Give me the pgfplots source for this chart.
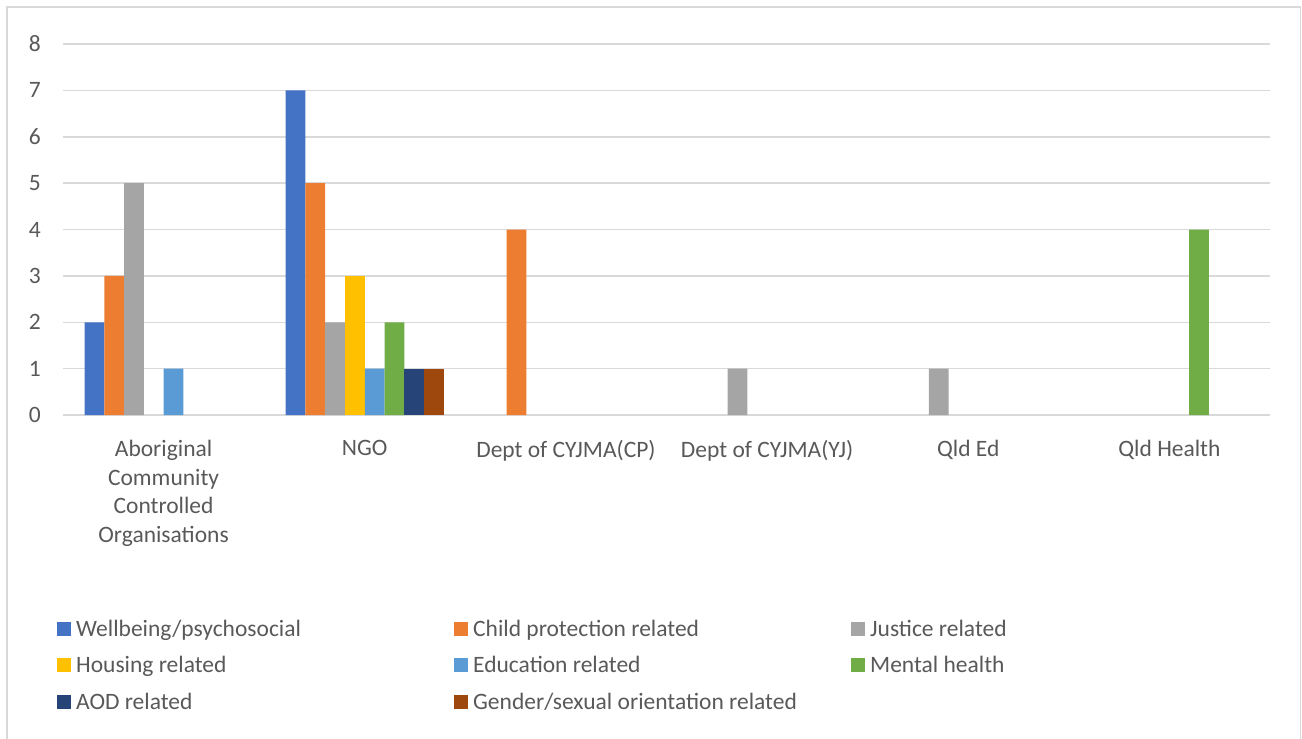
\documentclass[border=0pt]{standalone}
\usepackage{fontspec}
\setmainfont{Carlito}
\usepackage{pgfplots}
\usepackage{pgfplotstable}
\pgfplotsset{compat=1.18}
\definecolor{c1}{HTML}{4472C4}
\definecolor{c2}{HTML}{ED7D31}
\definecolor{c3}{HTML}{A5A5A5}
\definecolor{c4}{HTML}{FFC000}
\definecolor{c5}{HTML}{5B9BD5}
\definecolor{c6}{HTML}{70AD47}
\definecolor{c7}{HTML}{264478}
\definecolor{c8}{HTML}{9E480E}
\definecolor{txt}{HTML}{595959}
\definecolor{grd}{HTML}{D9D9D9}
\pgfplotstableread{
x W CP J H E MH AOD G
0 2 3 5 0 1 0 0 0
1 7 5 2 3 1 2 1 1
2 0 4 0 0 0 0 0 0
3 0 0 1 0 0 0 0 0
4 0 0 1 0 0 0 0 0
5 0 0 0 0 0 4 0 0
}\datatable
\newcommand{\lt}[1]{\makebox[378bp][l]{#1}}
\begin{document}
\fontsize{23.5bp}{28.5bp}\selectfont
\begin{tikzpicture}[x=1bp,y=1bp]
\useasboundingbox (0,-738) rectangle (1302,0);
\draw[color=grd, line width=1.5bp] (7,-7) rectangle (1300.5,-760);
\begin{axis}[
  at={(63bp,-415bp)}, anchor=south west,
  scale only axis, width=1207bp, height=371bp,
  xmin=-0.5, xmax=5.5, ymin=0, ymax=8,
  ybar=0pt, bar width=0.0982,
  restrict y to domain=0.5:10,
  legend image code/.code={\fill[#1] (0bp,-5bp) rectangle (14bp,9bp);},
  axis line style={draw=none},
  major tick length=0pt,
  ymajorgrids,
  major grid style={draw=grd, line width=1.5bp},
  ytick={0,...,8},
  xtick={0,...,5},
  xticklabels={{Aboriginal\\Community\\Controlled\\Organisations},NGO,{Dept of CYJMA(CP)},{Dept of CYJMA(YJ)},{Qld Ed},{Qld Health}},
  xticklabel style={align=center, text=txt, inner sep=0pt, anchor=north, yshift=-25bp},
  yticklabel style={text=txt, inner sep=0pt, anchor=east, xshift=-22bp},
  /pgf/number format/assume math mode=true,
  legend columns=3,
  legend cell align=left,
  legend style={draw=none, fill=none, at={(-0.005,-0.55)}, anchor=north west, inner sep=0pt,
    nodes={inner sep=0pt, text=txt, text height=17bp, text depth=6bp},
    row sep=13.5bp,
    /tikz/every odd column/.append style={column sep=5bp},
    /tikz/every even column/.append style={column sep=0bp}},
]
\addplot[fill=c1, draw=none] table[x=x, y=W] {\datatable};
\addlegendentry{\lt{Wellbeing/psychosocial}}
\addplot[fill=c2, draw=none] table[x=x, y=CP] {\datatable};
\addlegendentry{\lt{Child protection related}}
\addplot[fill=c3, draw=none] table[x=x, y=J] {\datatable};
\addlegendentry{\lt{Justice related}}
\addplot[fill=c4, draw=none] table[x=x, y=H] {\datatable};
\addlegendentry{\lt{Housing related}}
\addplot[fill=c5, draw=none] table[x=x, y=E] {\datatable};
\addlegendentry{\lt{Education related}}
\addplot[fill=c6, draw=none] table[x=x, y=MH] {\datatable};
\addlegendentry{\lt{Mental health}}
\addplot[fill=c7, draw=none] table[x=x, y=AOD] {\datatable};
\addlegendentry{\lt{AOD related}}
\addplot[fill=c8, draw=none] table[x=x, y=G] {\datatable};
\addlegendentry{\lt{Gender/sexual orientation related}}
\end{axis}
\end{tikzpicture}
\end{document}
